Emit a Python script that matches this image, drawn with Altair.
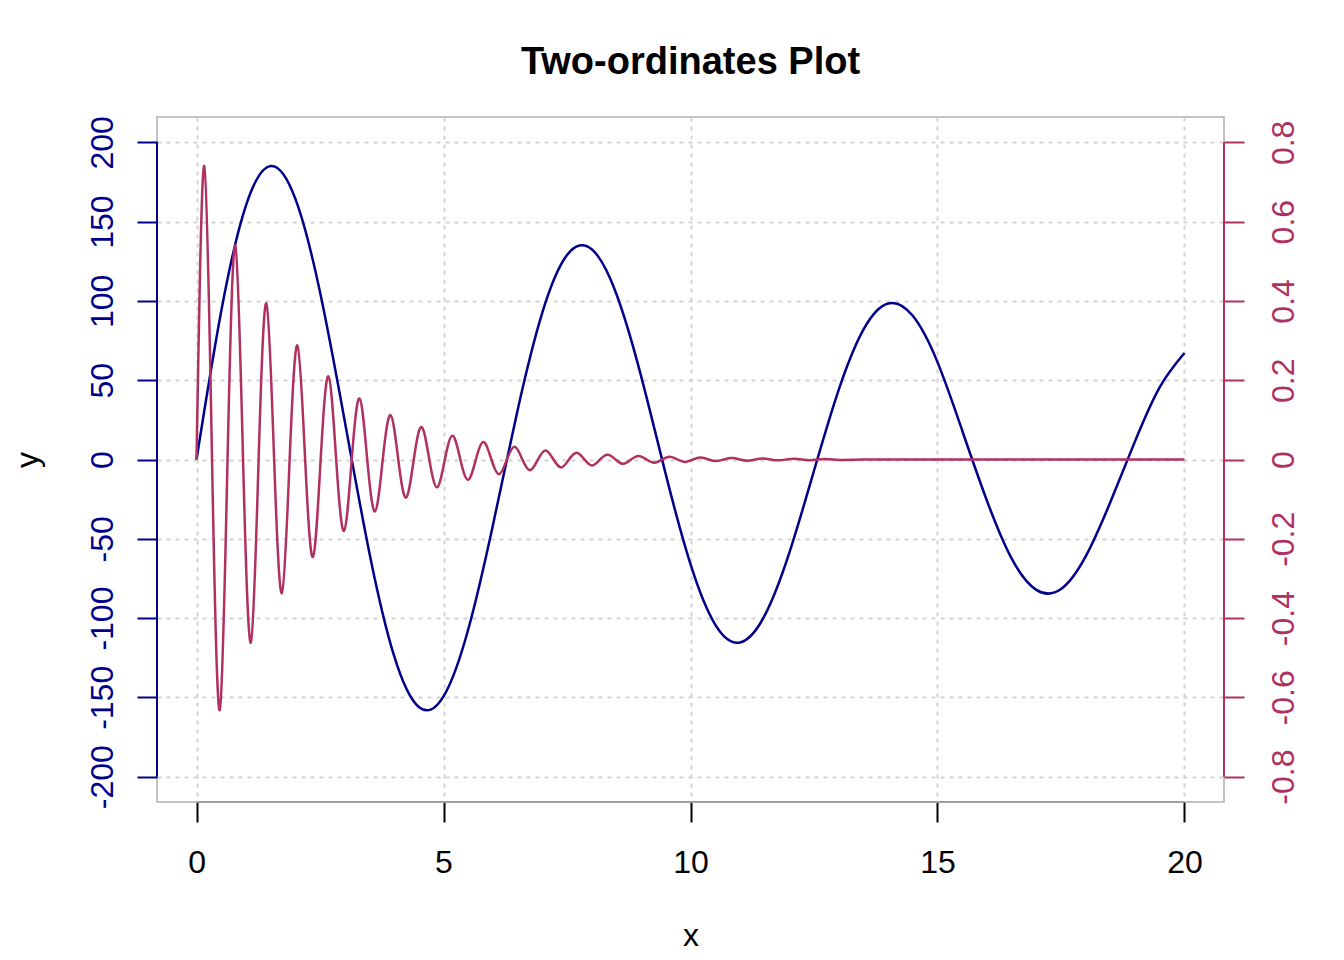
import altair as alt
import pandas as pd

# ---- text ----
title_text = "Two-ordinates Plot"
x_label = "x"
y_label = "y"

# ---- axes ----
x_ticks = [0, 5, 10, 15, 20]
left_ticks = [-200, -150, -100, -50, 0, 50, 100, 150, 200]
right_ticks = [-0.8, -0.6, -0.4, -0.2, 0, 0.2, 0.4, 0.6, 0.8]
x_limits = [-0.8, 20.8]
left_limits = [-216, 216]
right_limits = [-0.864, 0.864]

# ---- blue series (left axis) ----
blue_x = [0, 0.5, 1.0, 1.5, 2.0, 2.5, 3.0, 3.5, 4.0, 4.5, 5.0, 5.5, 6.0, 6.5, 7.0, 7.5,
          8.0, 8.5, 9.0, 9.5, 10.0, 10.5, 11.0, 11.5, 12.0, 12.5, 13.0, 13.5, 14.0, 14.5,
          15.0, 15.5, 16.0, 16.5, 17.0, 17.5, 18.0, 18.5, 19.0, 19.5, 20.0]
blue_y = [0, 93.5, 160.1, 185.1, 164.5, 105.6, 24.3, -58.9, -123.9, -156.1, -149.4, -107.2,
          -41.4, 31.1, 92.6, 128.9, 132.6, 104.4, 52.6, -9.4, -66.0, -104.1, -115.4, -98.5,
          -58.9, -7.1, 43.9, 81.9, 98.4, 90.6, 61.4, 18.3, -25.9, -62.4, -82.2, -81.7, -61.1,
          -26.8, 11.6, 45.7, 67.2]

# ---- red series (right axis) ----
red_x = [0, 0.157, 0.314, 0.471,
         0.628, 0.785, 0.942, 1.100,
         1.257, 1.414, 1.571, 1.728,
         1.885, 2.042, 2.199, 2.356,
         2.513, 2.670, 2.827, 2.985,
         3.142, 3.299, 3.456, 3.613,
         3.770, 3.927, 4.084, 4.241,
         4.398, 4.555, 4.712, 4.870,
         5.027, 5.184, 5.341, 5.498,
         5.655, 5.812, 5.969, 6.126,
         6.283, 6.440, 6.597, 6.754,
         6.912, 7.069, 7.226, 7.383,
         7.540, 7.697, 7.854, 8.011,
         8.168, 8.325, 8.482, 8.639,
         8.796, 8.954, 9.111, 9.268,
         9.425, 9.582, 9.739, 9.896,
         10.05, 10.21, 10.37, 10.52,
         10.68, 10.84, 11.00, 11.15,
         11.31, 11.47, 11.62, 11.78,
         11.94, 12.10, 12.25, 12.41,
         12.57, 12.72, 12.88, 13.04,
         13.5, 14.0, 15.0, 16.0, 17.0, 18.0, 19.0, 20.0]
red_y = [0, 0.740, 0, -0.632,
         0, 0.540, 0, -0.462,
         0, 0.394, 0, -0.337,
         0, 0.288, 0, -0.246,
         0, 0.210, 0, -0.180,
         0, 0.154, 0, -0.131,
         0, 0.112, 0, -0.096,
         0, 0.082, 0, -0.070,
         0, 0.060, 0, -0.051,
         0, 0.044, 0, -0.037,
         0, 0.032, 0, -0.027,
         0, 0.023, 0, -0.020,
         0, 0.017, 0, -0.015,
         0, 0.012, 0, -0.011,
         0, 0.009, 0, -0.008,
         0, 0.007, 0, -0.006,
         0, 0.005, 0, -0.004,
         0, 0.0035, 0, -0.003,
         0, 0.0026, 0, -0.0022,
         0, 0.0019, 0, -0.0016,
         0, 0.0013, 0, -0.0011,
         0, 0, 0, 0, 0, 0, 0, 0]

W, H = 1067, 685
NAVY = "#00008B"
MAROON = "#B03060"
FONT = "Liberation Sans"
GRID = "#D3D3D3"
LABEL_SIZE = 32

blue_df = pd.DataFrame({"x": blue_x, "y": blue_y})
red_df = pd.DataFrame({"x": red_x, "y": red_y})

x_scale = alt.Scale(domain=x_limits, nice=False, zero=False)
left_scale = alt.Scale(domain=left_limits, nice=False, zero=False)
right_scale = alt.Scale(domain=right_limits, nice=False, zero=False)

x_axis = alt.Axis(values=x_ticks, title=x_label, grid=True, gridColor=GRID,
                  gridDash=[4, 5], gridWidth=2, domain=False, ticks=True,
                  tickColor="black", tickSize=20, tickWidth=2,
                  labelFontSize=LABEL_SIZE, labelColor="black", labelPadding=25,
                  labelFlush=False, labelOverlap=False, labelFont=FONT,
                  titleFontSize=LABEL_SIZE, titleFontWeight="normal", titleColor="black",
                  titleFont=FONT,
                  titleX=W / 2, titleY=143, titleBaseline="alphabetic", titleAlign="center")

left_axis = alt.Axis(values=left_ticks, orient="left", title=y_label, grid=True,
                     gridColor=GRID, gridDash=[4, 5], gridWidth=2, domain=False,
                     tickColor=NAVY, tickSize=20, tickWidth=2,
                     labelColor=NAVY, labelFontSize=LABEL_SIZE, labelAngle=270,
                     labelAlign="center", labelBaseline="alphabetic", labelPadding=25,
                     labelOverlap=False, labelFlush=False, labelFont=FONT,
                     labelExpr="datum.value + ''",
                     titleFontSize=LABEL_SIZE, titleFontWeight="normal", titleColor="black",
                     titleFont=FONT,
                     titleX=-120, titleY=H / 2, titleAngle=270,
                     titleBaseline="alphabetic", titleAlign="center")

right_axis = alt.Axis(values=right_ticks, orient="right", title=None, grid=False,
                      domain=False, tickColor=MAROON, tickSize=20, tickWidth=2,
                      labelColor=MAROON, labelFontSize=LABEL_SIZE, labelAngle=270,
                      labelAlign="center", labelBaseline="top", labelPadding=24,
                      labelOverlap=False, labelFlush=False, labelFont=FONT,
                      labelExpr="datum.value + ''")

blue_line = alt.Chart(blue_df).mark_line(
    color=NAVY, strokeWidth=2.5, interpolate="natural"
).encode(
    x=alt.X("x:Q", scale=x_scale, axis=x_axis),
    y=alt.Y("y:Q", scale=left_scale, axis=left_axis),
)

red_line = alt.Chart(red_df).mark_line(
    color=MAROON, strokeWidth=2.5, interpolate="natural"
).encode(
    x=alt.X("x:Q", scale=x_scale, axis=x_axis),
    y=alt.Y("y:Q", scale=right_scale, axis=right_axis),
)

left_rule = alt.Chart(pd.DataFrame({"lo": [min(left_ticks)], "hi": [max(left_ticks)]})).mark_rule(
    color=NAVY, strokeWidth=2
).encode(
    x=alt.value(0),
    y=alt.Y("lo:Q", scale=left_scale, axis=None),
    y2="hi:Q",
)

right_rule = alt.Chart(pd.DataFrame({"lo": [min(right_ticks)], "hi": [max(right_ticks)]})).mark_rule(
    color=MAROON, strokeWidth=2
).encode(
    x=alt.value(W),
    y=alt.Y("lo:Q", scale=right_scale, axis=None),
    y2="hi:Q",
)

bottom_rule = alt.Chart(pd.DataFrame({"lo": [min(x_ticks)], "hi": [max(x_ticks)]})).mark_rule(
    color="#A0A0A0", strokeWidth=2
).encode(
    x=alt.X("lo:Q", scale=x_scale, axis=x_axis),
    x2="hi:Q",
    y=alt.value(H),
)

chart = alt.layer(blue_line, red_line, left_rule, right_rule, bottom_rule).resolve_scale(
    y="independent"
).properties(
    width=W,
    height=H,
    background="white",
    title=alt.TitleParams(text=title_text, fontSize=38, fontWeight="bold", font=FONT,
                          anchor="middle", frame="group", baseline="alphabetic",
                          offset=4, color="black"),
    autosize=alt.AutoSizeParams(type="none"),
    padding={"left": 149, "top": 109, "right": 112, "bottom": 150},
).configure_view(
    stroke="#C4C4C4", strokeWidth=2
)

chart.save("out.html", embed_options={"renderer": "svg", "actions": False})
